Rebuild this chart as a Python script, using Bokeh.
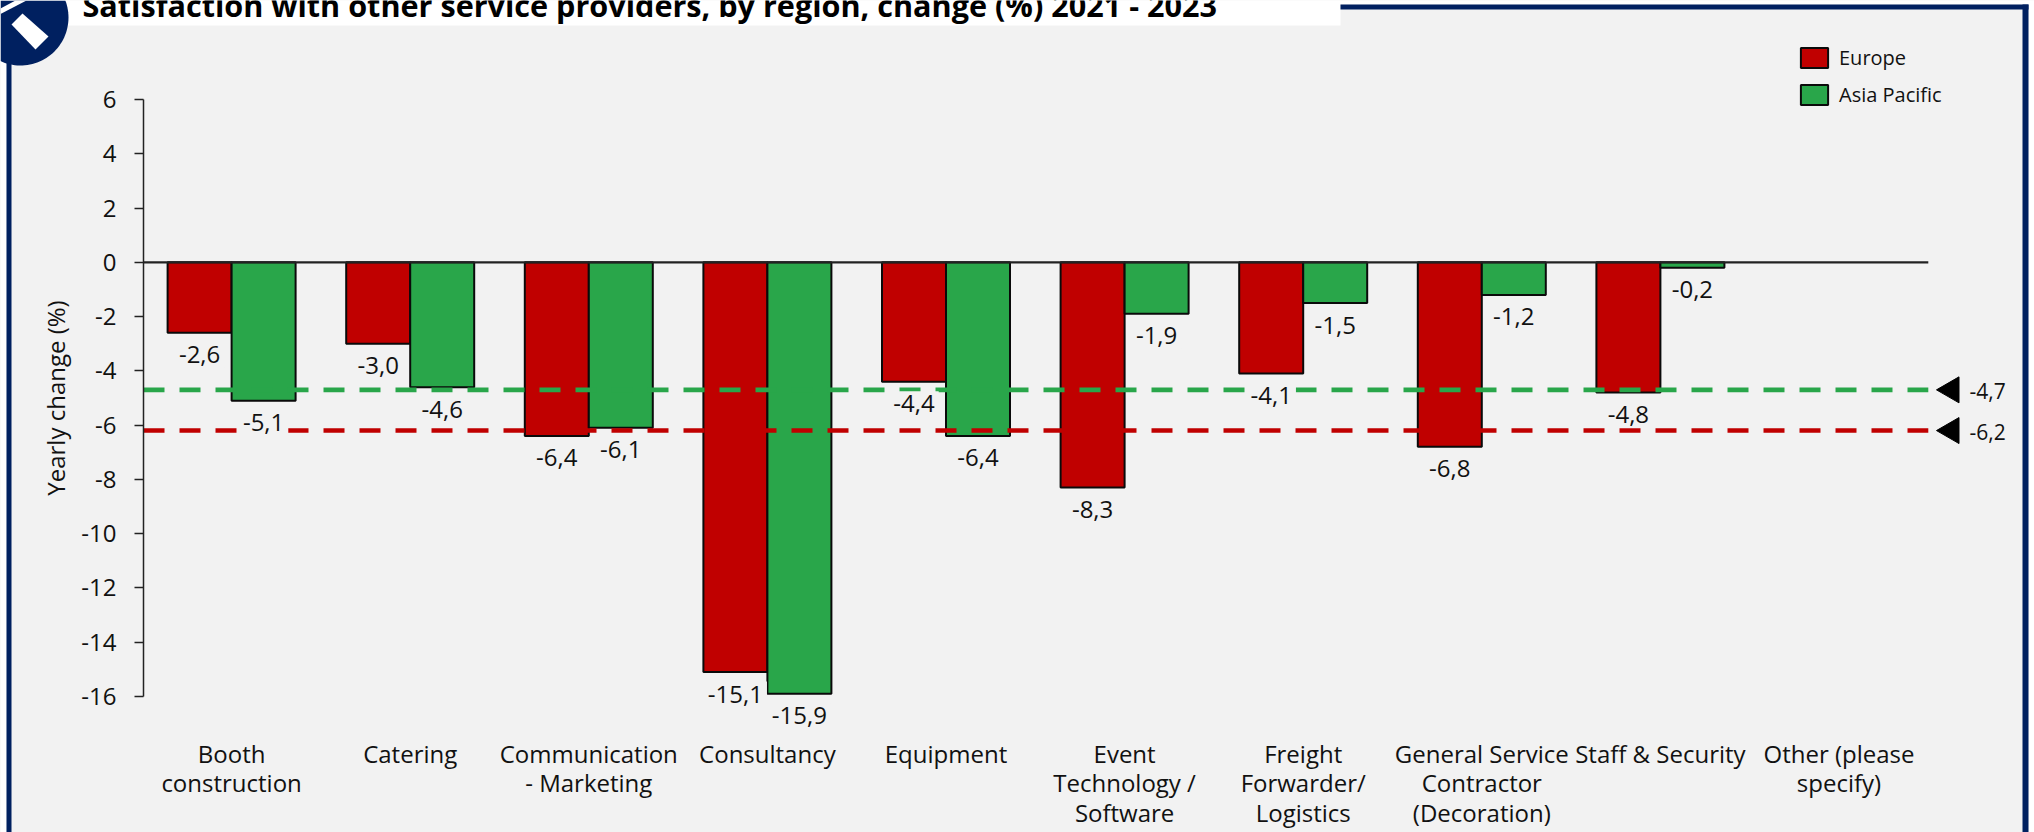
import numpy as np
from bokeh.plotting import figure
from bokeh.embed import file_html
from bokeh.resources import INLINE
from bokeh.models import (Range1d, FixedTicker, Legend, LegendItem, BoxAnnotation, LinearAxis,
                          PolyAnnotation, Label, ColumnDataSource)
from bokeh.core.properties import value

categories = ["Booth\nconstruction", "Catering", "Communication\n- Marketing", "Consultancy",
              "Equipment", "Event\nTechnology /\nSoftware", "Freight\nForwarder/\nLogistics",
              "General Service\nContractor\n(Decoration)", "Staff & Security", "Other (please\nspecify)"]
europe = [-2.6, -3.0, -6.4, -15.1, -4.4, -8.3, -4.1, -6.8, -4.8, None]
asia_pacific = [-5.1, -4.6, -6.1, -15.9, -6.4, -1.9, -1.5, -1.2, -0.2, None]
europe_avg = -6.2
asia_pacific_avg = -4.7
y_ticks = [6, 4, 2, 0, -2, -4, -6, -8, -10, -12, -14, -16]
title_text = "Satisfaction with other service providers, by region, change (%) 2021 - 2023"
y_title = "Yearly change (%)"

RED, GREEN, NAVY, BG = "#c00000", "#29a64a", "#002060", "#f2f2f2"
FONT = "Open Sans"
W, H = 2034, 832
PITCH = 178.6                 # px per category
UNIT = 27.136                 # px per percentage point
ORIGIN_X, TOP6_Y = 141.8, 99  # page x of category position -0.5, page y of the tick "6"
AXIS_PX = 143                 # page x of the y axis line
X_LABEL_Y = 736               # page y where the category labels hang

# the frame fills the whole page, so page pixels and data values convert directly
xd = lambda px: -0.5 + (px - ORIGIN_X) / PITCH
yd = lambda py: 6 - (py - TOP6_Y) / UNIT
BAR = 64 / PITCH

p = figure(width=W, height=H, output_backend="svg", toolbar_location=None,
           x_range=Range1d(xd(0), xd(W)), y_range=Range1d(yd(H), yd(0)),
           min_border=0, x_axis_location=None, y_axis_location=None,
           background_fill_color=BG, border_fill_color=BG, outline_line_color=None)
p.grid.visible = False

xa = LinearAxis(fixed_location=yd(X_LABEL_Y))
xa.ticker = FixedTicker(ticks=list(range(len(categories))))
xa.major_label_overrides = {i: c for i, c in enumerate(categories)}
xa.axis_line_color = None
xa.major_tick_line_color = None
xa.minor_tick_line_color = None
xa.major_tick_in = 0
xa.major_tick_out = 0
xa.major_label_text_font = FONT
xa.major_label_text_font_size = "24px"
xa.major_label_text_color = "#111111"
xa.major_label_text_line_height = 0.9
xa.major_label_standoff = 0
p.add_layout(xa, "below")

ya = LinearAxis(fixed_location=xd(AXIS_PX))
ya.ticker = FixedTicker(ticks=y_ticks)
ya.major_label_overrides = {v: str(v) for v in y_ticks}
ya.bounds = (-16, 6)
ya.axis_line_color = "#222222"
ya.axis_line_width = 1.5
ya.major_tick_line_color = "#222222"
ya.major_tick_line_width = 1.5
ya.major_tick_in = 0
ya.major_tick_out = 9
ya.minor_tick_line_color = None
ya.major_label_text_font = FONT
ya.major_label_text_font_size = "24px"
ya.major_label_text_color = "#111111"
ya.major_label_standoff = 18
ya.axis_label = y_title
ya.axis_label_text_font = FONT
ya.axis_label_text_font_size = "24px"
ya.axis_label_text_font_style = "normal"
ya.axis_label_text_color = "#111111"
ya.axis_label_standoff = 6
p.add_layout(ya, "left")

idx = np.arange(len(categories), dtype=float)
eu = np.array([np.nan if v is None else v for v in europe])
ap = np.array([np.nan if v is None else v for v in asia_pacific])

src_eu = ColumnDataSource(dict(x=idx[:-1] - BAR / 2, top=[0.0] * 9, bottom=eu[:-1]))
src_ap = ColumnDataSource(dict(x=idx[:-1] + BAR / 2, top=[0.0] * 9, bottom=ap[:-1]))
r_eu = p.vbar(x="x", top="top", bottom="bottom", width=BAR, source=src_eu,
              fill_color=RED, line_color="#0a0a0a", line_width=2)
r_ap = p.vbar(x="x", top="top", bottom="bottom", width=BAR, source=src_ap,
              fill_color=GREEN, line_color="#0a0a0a", line_width=2)

# zero line
p.line([xd(AXIS_PX), 9.5], [0, 0], line_color="#222222", line_width=2.2)

# average lines
p.line([xd(AXIS_PX), 9.5], [asia_pacific_avg] * 2, line_color=GREEN, line_width=4.6, line_dash="21 15")
p.line([xd(AXIS_PX), 9.5], [europe_avg] * 2, line_color=RED, line_width=4.6, line_dash="21 15")

# data labels (with a mask behind the text)
fmt = lambda v: f"{v:.1f}".replace(".", ",")
lab_x = list(idx[:-1] - BAR / 2) + list(idx[:-1] + BAR / 2)
lab_y = list(eu[:-1]) + list(ap[:-1])
lab_t = [fmt(v) for v in lab_y]
p.text(lab_x, lab_y, text=lab_t, text_font=value(FONT), text_font_size="24px", text_color="#111111",
       text_align="center", text_baseline="middle", y_offset=22,
       background_fill_color=BG, padding=4)

# average markers and their values
avgs = [asia_pacific_avg, europe_avg]
p.scatter([xd(1951)] * 2, avgs, marker="triangle", angle=np.pi / 2, size=26,
          fill_color="black", line_color="black")
p.text([xd(1969)] * 2, avgs, text=[fmt(v) for v in avgs], text_font=value(FONT), text_font_size="21px",
       text_color="#111111", text_align="left", text_baseline="middle", y_offset=1)

# legend
legend = Legend(items=[LegendItem(label="Europe", renderers=[r_eu]),
                       LegendItem(label="Asia Pacific", renderers=[r_ap])],
                location=(1797, 724), orientation="vertical", background_fill_alpha=0,
                border_line_color=None, glyph_width=34, glyph_height=25, spacing=10,
                label_text_font=FONT, label_text_font_size="20px", label_text_color="#111111",
                label_standoff=8, margin=0, padding=0)
p.add_layout(legend)

# page decoration: screen units of annotations count up from the page bottom
sy = lambda y: H - y

def box(l, r, t, b, c):
    p.add_layout(BoxAnnotation(left=l, right=r, top=sy(t), bottom=sy(b),
                               left_units="screen", right_units="screen",
                               top_units="screen", bottom_units="screen", fill_color=c, fill_alpha=1,
                               line_color=None, level="overlay", editable=False))
box(0, 6, 0, H, "white")
box(0, W, 0, 4, "white")
box(2028, W, 0, H, "white")
box(0, 1340, 0, 25, "white")
box(6, 11, 60, H, NAVY)
box(1340, 2028, 4, 9, NAVY)
box(2022, 2028, 4, H, NAVY)

th = np.linspace(0, 2 * np.pi, 120)
def poly(xs, ys, c):
    p.add_layout(PolyAnnotation(xs=list(xs), ys=[sy(v) for v in ys], xs_units="screen", ys_units="screen",
                                fill_color=c, fill_alpha=1, line_color=None, level="overlay"))
poly(np.clip(20 + 48 * np.cos(th), 0, None), np.clip(17 + 48 * np.sin(th), 0, None), NAVY)
poly([22, 48, 35, 11], [13, 36, 49, 24], "white")
poly([0, 15, 26, 0], [8, 0, 0, 13.5], "white")

p.add_layout(Label(x=82, y=sy(4), x_units="screen", y_units="screen", text=title_text, text_font=FONT,
                   text_font_size="30.6px", text_font_style="bold", text_color="#000000",
                   text_baseline="alphabetic", text_align="left", level="overlay"))

open("out.html", "w").write(file_html(p, INLINE))
